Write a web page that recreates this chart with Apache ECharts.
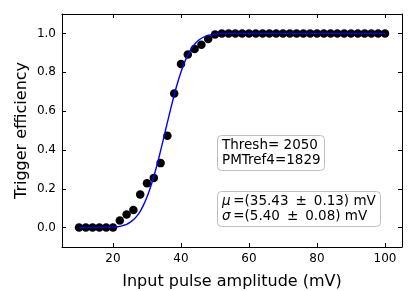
<!DOCTYPE html>
<html><head><meta charset="utf-8">
<script src="https://cdn.jsdelivr.net/npm/echarts@6/dist/echarts.min.js"></script>
<style>html,body{margin:0;padding:0;background:#fff}#c{width:415px;height:291px}</style>
</head><body><div id="c"></div>
<script>
// Measured points (input amplitude in mV, efficiency)
const amplitudes = [10,12,14,16,18,20,22,24,26,28,30,32,34,36,38,40,42,44,46,48,50,52,54,56,58,60,62,64,66,68,70,72,74,76,78,80,82,84,86,88,90,92,94,96,98,100];
const efficiency = [0,0,0,0,0,0,0.037,0.067,0.090,0.171,0.228,0.256,0.332,0.473,0.691,0.843,0.892,0.920,0.942,0.971,0.995,1,1,1,1,1,1,1,1,1,1,1,1,1,1,1,1,1,1,1,1,1,1,1,1,1];
// Fitted curve
const fitX = [10,14,18,20,21,22,23,24,25,26,27,28,29,30,31,32,33,34,35,36,37,38,39,40,41,42,43,44,45,46,47,48,50,52,55,60,100];
const fitY = [0,0,0.001,0.002,0.004,0.006,0.011,0.017,0.027,0.040,0.059,0.084,0.117,0.157,0.206,0.263,0.326,0.396,0.468,0.542,0.614,0.683,0.746,0.801,0.849,0.888,0.920,0.944,0.962,0.975,0.984,0.990,0.996,0.999,1,1,1];
const xTicks = [20,40,60,80,100];
const yTicks = [0,0.2,0.4,0.6,0.8,1.0];
const box1 = ['Thresh= 2050','PMTref4=1829'];
const box2 = [['\u03bc','\u2009=(35.43 \u2009\u00b1\u2009 0.13) mV'],['\u03c3','\u2009=(5.40 \u2009\u00b1\u2009 0.08) mV']];

const F = 'DejaVu Sans';
const chart = echarts.init(document.getElementById('c'), null, {renderer:'canvas'});
const axisLine = {show:true, onZero:false, lineStyle:{color:'#000', width:1}};
const tickIn = (vals)=>({show:true, inside:true, length:4, customValues:vals, lineStyle:{color:'#000', width:1}});
const boxStyle = {backgroundColor:'#fff', borderColor:'#bdbdbd', borderWidth:1, borderRadius:4};
chart.setOption({
  animation:false,
  textStyle:{fontFamily:F},
  grid:{left:62, right:13, top:14, bottom:44, containLabel:false, outerBoundsMode:'none'},
  xAxis:[{
    type:'value', min:5, max:105, position:'bottom',
    name:'Input pulse amplitude (mV)', nameLocation:'middle', nameGap:27, nameMoveOverlap:false,
    nameTextStyle:{fontFamily:F, fontSize:16, color:'#000'},
    axisLine:axisLine, axisTick:tickIn(xTicks),
    axisLabel:{customValues:xTicks, fontFamily:F, fontSize:12, color:'#000', margin:6},
    splitLine:{show:false}
  },{
    type:'value', min:5, max:105, position:'top',
    axisLine:axisLine, axisTick:tickIn(xTicks),
    axisLabel:{show:false, customValues:xTicks}, splitLine:{show:false}
  }],
  yAxis:[{
    type:'value', min:-0.1, max:1.1, position:'left',
    name:'Trigger efficiency', nameLocation:'middle', nameGap:32, nameMoveOverlap:false,
    nameTextStyle:{fontFamily:F, fontSize:16, color:'#000'},
    axisLine:axisLine, axisTick:tickIn(yTicks),
    axisLabel:{customValues:yTicks, fontFamily:F, fontSize:12, color:'#000', margin:6,
      formatter:(v)=>v.toFixed(1)},
    splitLine:{show:false}
  },{
    type:'value', min:-0.1, max:1.1, position:'right',
    axisLine:axisLine, axisTick:tickIn(yTicks),
    axisLabel:{show:false, customValues:yTicks}, splitLine:{show:false}
  }],
  title:[{
    left:217, top:135,
    text:box1.join('\n'),
    padding:[3,4,3,5],
    ...boxStyle,
    textStyle:{fontFamily:F, fontSize:13.5, fontWeight:'normal', color:'#000', lineHeight:15}
  },{
    left:217, top:191,
    text:box2.map(r=>'{i|'+r[0]+'}'+r[1]).join('\n'),
    padding:[3,5,3,5],
    ...boxStyle,
    textStyle:{fontFamily:F, fontSize:13.5, fontWeight:'normal', color:'#000', lineHeight:15,
      rich:{i:{fontFamily:F, fontStyle:'italic', fontSize:13.5, color:'#000', lineHeight:15}}}
  }],
  series:[{
    type:'scatter', xAxisIndex:0, yAxisIndex:0,
    data:amplitudes.map((x,i)=>[x,efficiency[i]]),
    symbol:'circle', symbolSize:8.5, itemStyle:{color:'#000', opacity:1}, z:2
  },{
    type:'line', xAxisIndex:0, yAxisIndex:0,
    data:fitX.map((x,i)=>[x,fitY[i]]),
    showSymbol:false, smooth:0.3,
    lineStyle:{color:'#0000ff', width:1.4}, z:3
  }]
});
</script></body></html>
